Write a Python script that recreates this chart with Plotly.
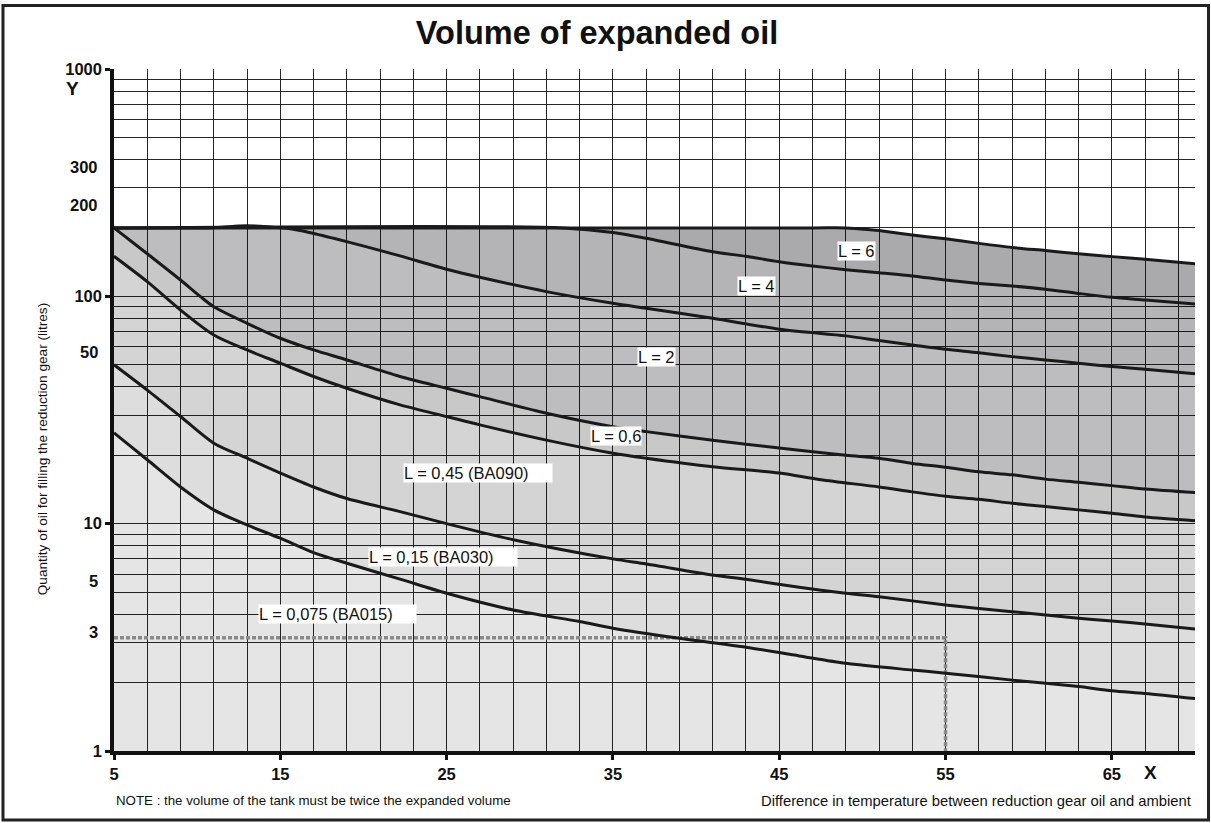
import math
import plotly.graph_objects as go

# Expanded oil volume (litres) vs. temperature difference (deg C), one series per L value
x_l6 = [5, 47, 49, 50.3, 51, 53, 55, 57, 59, 61, 63, 65, 67, 70]
y_l6 = [200, 200, 200, 197, 194.6, 186, 179, 171, 164, 159, 154, 149.5, 145.6, 139]

x_l4 = [5, 32, 35, 37, 41, 43, 45, 47, 49, 51, 53, 55, 57, 59, 61, 63, 65, 67, 70]
y_l4 = [200, 200, 191, 180, 157, 150, 142, 136, 131, 127, 123, 118, 114, 111, 107.5,
        103, 99, 96.4, 92.6]

x_l2 = [5, 10.5, 11.5, 12.5, 13.5, 14.5, 15.5, 16.5, 18.2, 20.2, 22.2, 25, 27, 31, 35,
        37, 41, 45, 49, 51, 53, 55, 57, 59, 61, 63, 65, 67, 70]
y_l2 = [200, 200, 201.5, 204, 204, 201.5, 199, 193, 180, 165, 150.6, 131.6, 121.3, 104.9,
        93.2, 88.6, 80.1, 71.7, 67, 63.9, 61.1, 58.5, 56.5, 54.3, 52.5, 50.8, 49.1, 47.8,
        45.6]

x_l06 = [5, 7, 9, 10.2, 11, 13, 15, 17, 19, 22.2, 25, 27, 31, 35, 37, 41, 45, 49, 51,
         53, 55, 57, 59, 61, 63, 65, 67, 70]
y_l06 = [200, 154, 118, 99.7, 90, 76.1, 65.4, 58.1, 52.5, 44.4, 39.4, 36.2, 30.6, 26.7,
         25.4, 23.3, 21.5, 20.0, 19.4, 18.4, 17.7, 16.9, 16.4, 15.7, 15.2, 14.7, 14.2, 13.7]

x_l045 = [5, 7, 9, 11, 13, 15, 17, 19, 22.2, 25, 27, 31, 35, 37, 41, 45, 47.5, 51, 53,
          55, 57, 59, 61, 63, 65, 67, 70]
y_l045 = [150, 116, 87, 67.6, 58.1, 50.8, 44.4, 39.4, 33.3, 29.6, 27.2, 23.3, 20.4, 19.4,
          17.8, 16.7, 15.6, 14.5, 13.8, 13.2, 12.8, 12.3, 11.9, 11.5, 11.1, 10.7, 10.3]

x_l015 = [5, 7, 9, 11, 13, 15, 17, 19, 22.2, 25, 29, 35, 37, 41, 43, 46.2, 49, 51, 55,
          59, 63, 65, 67, 70]
y_l015 = [50, 38.7, 29.6, 22.6, 19.4, 16.7, 14.5, 12.9, 11.3, 10.0, 8.5, 7.0, 6.65, 5.95,
          5.69, 5.25, 4.94, 4.77, 4.39, 4.10, 3.84, 3.73, 3.62, 3.44]

x_l0075 = [5, 7, 9, 11, 13, 15, 17, 19, 22.2, 25, 29, 33, 35, 39, 43, 46.2, 49, 53, 55,
           59, 63, 65, 67, 70]
y_l0075 = [25.1, 19.1, 14.5, 11.5, 9.87, 8.63, 7.46, 6.70, 5.7, 4.94, 4.17, 3.71, 3.47,
           3.13, 2.86, 2.62, 2.43, 2.27, 2.20, 2.05, 1.92, 1.84, 1.79, 1.70]

# Worked example (dotted reading line)
example_x = [5, 55, 55]
example_y = [3.15, 3.15, 1]

# Curve labels and where they sit
label_text = ["L = 6", "L = 4", "L = 2", "L = 0,6",
              "L = 0,45 (BA090)", "L = 0,15 (BA030)", "L = 0,075 (BA015)"]
label_x = [48.5, 42.44, 36.45, 33.62, 22.38, 20.29, 13.68]
label_y = [158.5, 110.6, 54.1, 24.3, 16.63, 7.16, 3.995]

# Axis ticks
x_ticks = [5, 15, 25, 35, 45, 55, 65]
y_major = [1, 10, 100, 1000]
y_extra = [3, 5, 50, 200, 300]
y_extra_shift = [10.6, 11.2, 12.8, 23, 20.5]

# Stacked from the bottom band up; each band is a translucent black wash so the grid shows through
series = [
    (x_l0075, y_l0075, "tozeroy", 0.10),
    (x_l015, y_l015, "tonexty", 0.135),
    (x_l045, y_l045, "tonexty", 0.17),
    (x_l06, y_l06, "tonexty", 0.215),
    (x_l2, y_l2, "tonexty", 0.26),
    (x_l4, y_l4, "tonexty", 0.295),
    (x_l6, y_l6, "tonexty", 0.335),
]

LINE = "#1a1a1a"
GRID = "#262626"
FONT = "Liberation Sans, Arial, Helvetica, sans-serif"

fig = go.Figure()

fig.add_trace(go.Scatter(
    x=example_x, y=example_y, mode="lines",
    line=dict(color="#9a9a9a", width=3.5, dash="4px,2px"),
    hoverinfo="skip", showlegend=False,
))

for xs, ys, fill, alpha in series:
    fig.add_trace(go.Scatter(
        x=xs, y=ys, mode="lines", fill=fill,
        fillcolor=f"rgba(0,0,6,{alpha})",
        line=dict(color=LINE, width=3, shape="spline", smoothing=0.8),
        hoverinfo="skip", showlegend=False,
    ))

annotations = []
for t, lx, ly in zip(label_text, label_x, label_y):
    pad = "\u00a0" * 5 if "BA" in t else ""
    annotations.append(dict(
        x=lx, y=math.log10(ly), xref="x", yref="y", text=t + pad,
        showarrow=False, xanchor="left", yanchor="middle",
        bgcolor="white", borderpad=0,
        font=dict(family=FONT, size=16.5, color="#111"),
    ))

for v, s in zip(y_extra, y_extra_shift):
    annotations.append(dict(
        x=0, xref="paper", y=math.log10(v), yref="y", text=f"<b>{v}</b>",
        showarrow=False, xanchor="right", yanchor="middle", xshift=-14, yshift=s,
        font=dict(family=FONT, size=16.5, color="#111"),
    ))

annotations += [
    dict(x=-0.038, y=0.971, xref="paper", yref="paper", text="<b>Y</b>",
         showarrow=False, xanchor="center", yanchor="middle",
         font=dict(family=FONT, size=19, color="#111")),
    dict(x=0.959, y=-0.032, xref="paper", yref="paper", text="<b>X</b>",
         showarrow=False, xanchor="center", yanchor="middle",
         font=dict(family=FONT, size=19, color="#111")),
    dict(x=0, y=-0.073, xref="paper", yref="paper",
         text="NOTE : the volume of the tank must be twice the expanded volume",
         showarrow=False, xanchor="left", yanchor="middle",
         font=dict(family=FONT, size=13.3, color="#111")),
    dict(x=0.9985, y=-0.073, xref="paper", yref="paper",
         text="Difference in temperature between reduction gear oil and ambient",
         showarrow=False, xanchor="right", yanchor="middle",
         font=dict(family=FONT, size=14.8, color="#111")),
    dict(x=-0.066, y=0.442, xref="paper", yref="paper",
         text="Quantity of oil for filling the reduction gear (litres)",
         textangle=-90, showarrow=False, xanchor="center", yanchor="middle",
         font=dict(family=FONT, size=13.6, color="#111")),
]

grid_vals = [m * 10 ** k for k in range(3) for m in range(1, 10)] + [1000]

fig.update_layout(
    width=1211, height=823,
    margin=dict(l=114, r=16, t=69, b=72),
    paper_bgcolor="white", plot_bgcolor="white",
    title=dict(text="<b>Volume of expanded oil</b>", x=0.493, xref="container",
               y=0.96, yref="container", xanchor="center", yanchor="middle",
               font=dict(family=FONT, size=32.5, color="#111")),
    xaxis=dict(
        range=[5, 70], tickvals=x_ticks, ticktext=[f"<b>{v}</b>" for v in x_ticks],
        ticks="outside", ticklen=5, tickwidth=2.5, tickcolor="#111",
        showline=True, linewidth=3.5, linecolor="#111",
        showgrid=True, gridcolor=GRID, gridwidth=1, zeroline=False,
        minor=dict(tickvals=list(range(5, 70, 2)), showgrid=True,
                   gridcolor=GRID, gridwidth=1, ticks=""),
        tickfont=dict(family=FONT, size=16.5, color="#111"),
    ),
    yaxis=dict(
        type="log", range=[0, 3], tickvals=y_major,
        ticktext=[f"<b>{v}</b>" for v in y_major],
        ticks="outside", ticklen=5, tickwidth=2.5, tickcolor="#111",
        showline=True, linewidth=3.5, linecolor="#111",
        showgrid=True, gridcolor=GRID, gridwidth=1, zeroline=False,
        minor=dict(tickvals=grid_vals, showgrid=True,
                   gridcolor=GRID, gridwidth=1, ticks=""),
        tickfont=dict(family=FONT, size=16.5, color="#111"),
    ),
    annotations=annotations,
    shapes=[dict(type="rect", xref="paper", yref="paper",
                 x0=-0.1027, x1=1.0125, y0=-0.1012, y1=1.0931,
                 line=dict(color="#222", width=3), fillcolor="rgba(0,0,0,0)",
                 layer="above")],
)

fig.write_html("out.html")
